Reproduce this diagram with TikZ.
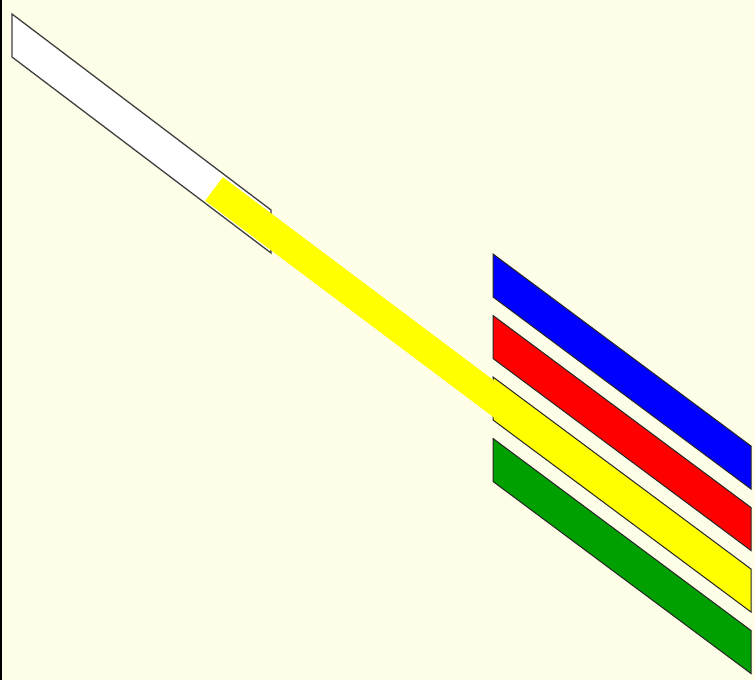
\documentclass[tikz,border=0pt]{standalone}
\usepackage{tikz}
\definecolor{bg}{RGB}{254,254,232}
\definecolor{barblue}{RGB}{0,0,255}
\definecolor{barred}{RGB}{255,0,0}
\definecolor{baryellow}{RGB}{255,255,0}
\definecolor{bargreen}{RGB}{0,160,0}
\tikzset{
  bar/.style={draw=black!85, line width=1pt, line join=miter},
  slab/.style={draw=black!75, line width=1.3pt, fill=white},
  beam/.style={fill=baryellow, draw=none}
}
\begin{document}
\begin{tikzpicture}[x=1pt,y=-1pt]
\useasboundingbox (0,0) rectangle (755,680);
\fill[bg] (0,0) rectangle (755,680);
\fill[black] (0,0) rectangle (2,680);
% white slab
\draw[slab] (12,14) -- (271,210) -- (271,253) -- (12,57) -- cycle;
% colour bars
\draw[bar, fill=barblue]   (493,254)   -- (751,446)   -- (751,489)   -- (493,297)   -- cycle;
\draw[bar, fill=barred]    (493,315.5) -- (751,507.5) -- (751,550.5) -- (493,358.5) -- cycle;
\draw[bar, fill=baryellow] (493,377)   -- (751,569)   -- (751,612)   -- (493,420)   -- cycle;
\draw[bar, fill=bargreen]  (493,438.5) -- (751,630.5) -- (751,673.5) -- (493,481.5) -- cycle;
% yellow beam
\fill[beam] (222.9,177.2) -- (608.9,466.7) -- (591.1,490.3) -- (205.1,200.8) -- cycle;
\end{tikzpicture}
\end{document}
